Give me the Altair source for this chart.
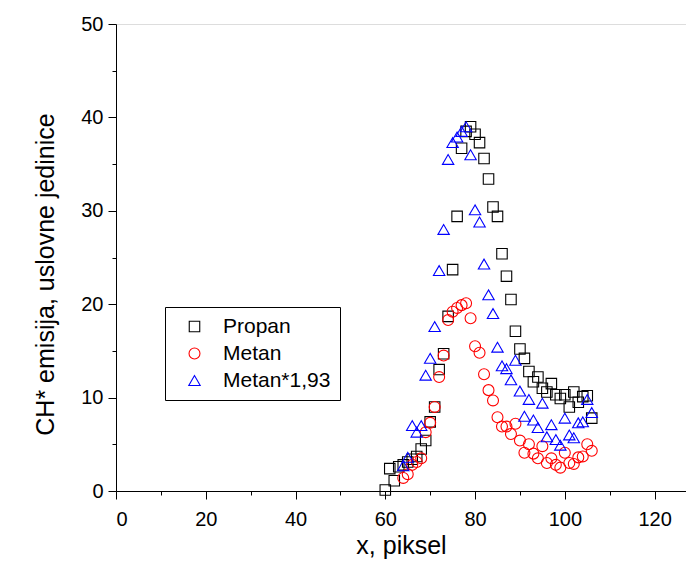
import altair as alt
import pandas as pd

# Propan (squares)
propan_x = [60, 61, 62, 63, 64, 65, 66, 67, 68, 69, 70, 71, 72, 73, 74, 75, 76, 77, 78, 79,
            80, 81, 82, 83, 84, 85, 86, 87, 88, 89, 90, 91, 92, 93, 94, 95, 96, 97, 98, 99,
            100, 101, 102, 103, 104, 105, 106]
propan_y = [0.1, 2.4, 1.1, 2.6, 2.8, 3.1, 3.4, 3.7, 4.5, 5.4, 7.4, 9.0, 13.0, 14.7, 18.7, 23.7, 29.4, 36.7, 38.5, 39.0,
            38.2, 37.3, 35.6, 33.4, 30.4, 29.4, 25.4, 23.0, 20.5, 17.1, 15.2, 14.2, 12.8, 11.7, 12.2, 11.0, 10.6, 11.5, 10.3, 9.9,
            10.3, 9.0, 10.6, 9.5, 10.1, 10.2, 7.8]

# Metan (circles)
metan_x = [64, 65, 66, 67, 68, 69, 70, 71, 72, 73, 74, 75, 76, 77, 78, 79, 80, 81, 82, 83, 84, 85,
           86, 87, 88, 89, 90, 91, 92, 93, 94, 95, 96, 97, 98, 99, 100, 101, 102, 103, 104, 105, 106]
metan_y = [1.4, 1.8, 2.8, 3.1, 3.5, 6.3, 7.3, 9.0, 12.2, 14.5, 18.3, 19.2, 19.6, 19.9, 20.1, 18.5, 15.5, 14.8, 12.5, 10.8, 9.7, 7.9,
           6.9, 6.9, 6.1, 7.2, 5.4, 4.1, 5.0, 4.0, 3.5, 4.8, 3.0, 3.5, 2.8, 2.5, 4.1, 3.0, 2.9, 3.6, 3.7, 5.0, 4.3]

# Metan*1,93 (triangles)
tri_x = [64, 65, 66, 67, 68, 69, 70, 71, 72, 73, 74, 75, 76, 77, 78, 79, 80, 81, 82, 83, 84, 85,
         86, 87, 88, 89, 90, 91, 92, 93, 94, 95, 96, 97, 98, 99, 100, 101, 102, 103, 104, 105, 106]
tri_y = [2.7, 3.6, 7.0, 6.3, 7.0, 12.4, 14.2, 17.6, 23.6, 28.0, 35.5, 37.3, 37.9, 38.5, 39.0, 36.0, 30.1, 28.8, 24.3, 21.0, 19.0, 15.4,
         13.4, 13.1, 11.9, 14.0, 10.7, 8.0, 9.8, 7.6, 6.8, 9.4, 5.8, 7.1, 5.5, 4.9, 7.8, 6.0, 5.7, 7.3, 7.4, 9.8, 8.4]

series_names = ["Propan", "Metan", "Metan*1,93"]
series_colors = ["#000000", "#ff0000", "#0000ff"]
series_shapes = ["square", "circle", "triangle-up"]
series_sizes = [110, 130, 140]

x_ticks = list(range(0, 121, 10))
y_ticks = list(range(0, 51, 5))

rows = []
for name, xs, ys in zip(series_names, [propan_x, metan_x, tri_x], [propan_y, metan_y, tri_y]):
    for xv, yv in zip(xs, ys):
        rows.append({"x": xv, "y": yv, "series": name})
df = pd.DataFrame(rows)

FONT = "Liberation Sans"

chart = alt.Chart(df).mark_point(filled=False, strokeWidth=1.1, opacity=1).encode(
    x=alt.X("x:Q",
            scale=alt.Scale(domain=[0, 127], nice=False, zero=False),
            axis=alt.Axis(title="x, piksel", values=x_ticks,
                          labelExpr="datum.value % 20 === 0 ? datum.label : ''",
                          tickSize={"condition": {"test": "datum.value % 20 !== 0", "value": 4}, "value": 8},
                          grid=False, labelFontSize=20, titleFontSize=25,
                          titleFontWeight="normal", labelPadding=10, titlePadding=4,
                          domainColor="black", tickColor="black", labelColor="black",
                          titleColor="black", labelFont=FONT, titleFont=FONT)),
    y=alt.Y("y:Q",
            scale=alt.Scale(domain=[0, 50], nice=False),
            axis=alt.Axis(title="CH* emisija, uslovne jedinice", values=y_ticks,
                          labelExpr="datum.value % 10 === 0 ? datum.label : ''",
                          tickSize={"condition": {"test": "datum.value % 10 !== 0", "value": 4}, "value": 8},
                          grid=False, labelFontSize=20, titleFontSize=25,
                          titleFontWeight="normal", labelPadding=5, titlePadding=22,
                          titleY=250,
                          domainColor="black", tickColor="black", labelColor="black",
                          titleColor="black", labelFont=FONT, titleFont=FONT)),
    color=alt.Color("series:N", scale=alt.Scale(domain=series_names, range=series_colors),
                    legend=alt.Legend(title=None, orient="none", legendX=49, legendY=283,
                                      strokeColor="black", fillColor="white", padding=9,
                                      symbolOffset=10, labelOffset=18, rowPadding=5,
                                      labelFontSize=21, labelFont=FONT, labelColor="black",
                                      symbolSize=70, symbolStrokeWidth=1.1)),
    shape=alt.Shape("series:N", scale=alt.Scale(domain=series_names, range=series_shapes)),
    size=alt.Size("series:N", scale=alt.Scale(domain=series_names, range=series_sizes), legend=None),
    order=alt.Order("ord:Q"),
).transform_calculate(
    ord="datum.series === 'Propan' ? 0 : (datum.series === 'Metan' ? 1 : 2)"
).properties(
    width=570, height=467,
    autosize=alt.AutoSizeParams(type="none"),
    padding={"left": 108, "top": 16, "right": 0, "bottom": 70},
).configure_view(stroke=None).configure(background="white")

chart.save("out.html", embed_options={"renderer": "svg", "actions": False})
